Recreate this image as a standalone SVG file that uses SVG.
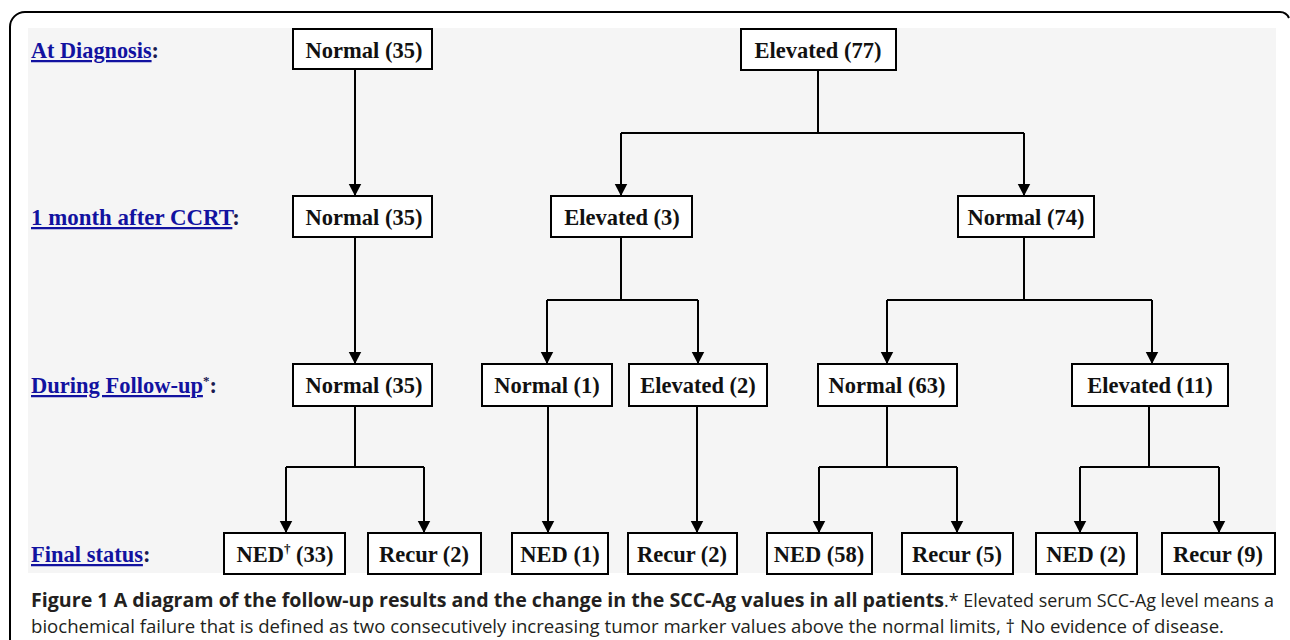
<svg xmlns="http://www.w3.org/2000/svg" width="1290" height="640" viewBox="0 0 1290 640">
<defs>
<marker id="ah" markerUnits="userSpaceOnUse" markerWidth="13" markerHeight="14" refX="12.5" refY="7" orient="auto" viewBox="0 0 13 14">
<path d="M0,0.5 L12.5,7 L0,13.5 Z" fill="#000"/>
</marker>
<style>
.box{fill:#fff;stroke:#000;stroke-width:2}
.bt{font-family:"Liberation Serif",serif;font-weight:bold;font-size:22.5px;fill:#111;text-anchor:middle}
.lb{font-family:"Liberation Serif",serif;font-weight:bold;font-size:22.5px;fill:#1212a0}
.lk{text-decoration:underline}
.cl{fill:#1a1a50}
.ln{fill:none;stroke:#000;stroke-width:2}
.ar{fill:none;stroke:#000;stroke-width:2;marker-end:url(#ah)}
.cap{font-family:"Open Sans","Noto Sans",sans-serif;font-size:19px;fill:#231f20}
</style>
</defs>
<rect x="0" y="0" width="1290" height="640" fill="#fff"/>
<path d="M10,640 V27 A15,15 0 0 1 25,12 H1280 A10,10 0 0 1 1289,18" fill="none" stroke="#000" stroke-width="2"/>
<rect x="28" y="28" width="1248" height="545" fill="#f5f5f5"/>

<g id="labels">
<text class="lb" x="31" y="58" textLength="128" lengthAdjust="spacingAndGlyphs"><tspan class="lk">At Diagnosis</tspan><tspan class="cl">:</tspan></text>
<text class="lb" x="31" y="225" textLength="209" lengthAdjust="spacingAndGlyphs"><tspan class="lk">1 month after CCRT</tspan><tspan class="cl">:</tspan></text>
<text class="lb" x="31" y="393"><tspan class="lk">During Follow-up</tspan><tspan class="cl" font-size="13" dy="-8">*</tspan><tspan class="cl" dy="8">:</tspan></text>
<text class="lb" x="31" y="562"><tspan class="lk">Final status</tspan><tspan class="cl">:</tspan></text>
</g>

<g id="connectors">
<path class="ar" d="M355,69 V196"/>
<path class="ln" d="M818,70 V133 M621,133 H1024"/>
<path class="ar" d="M621,133 V196"/>
<path class="ar" d="M1024,133 V196"/>

<path class="ar" d="M355,237 V364"/>
<path class="ln" d="M621,237 V300 M547,300 H698"/>
<path class="ar" d="M547,300 V364"/>
<path class="ar" d="M698,300 V364"/>
<path class="ln" d="M1024,237 V300 M887,300 H1152"/>
<path class="ar" d="M887,300 V364"/>
<path class="ar" d="M1152,300 V364"/>

<path class="ln" d="M355,406 V467 M286,467 H424"/>
<path class="ar" d="M286,467 V533"/>
<path class="ar" d="M424,467 V533"/>
<path class="ar" d="M548,406 V533"/>
<path class="ar" d="M697,406 V533"/>
<path class="ln" d="M887,406 V467 M819,467 H957"/>
<path class="ar" d="M819,467 V533"/>
<path class="ar" d="M957,467 V533"/>
<path class="ln" d="M1149,406 V467 M1080,467 H1219"/>
<path class="ar" d="M1080,467 V533"/>
<path class="ar" d="M1219,467 V533"/>
</g>

<g id="n1"><rect class="box" x="293" y="29" width="139" height="40"/><text class="bt" x="364" y="58">Normal (35)</text></g>
<g id="n2"><rect class="box" x="741" y="29" width="155" height="41"/><text class="bt" x="818" y="58">Elevated (77)</text></g>

<g id="n3"><rect class="box" x="293" y="196" width="139" height="41"/><text class="bt" x="364" y="225">Normal (35)</text></g>
<g id="n4"><rect class="box" x="551" y="196" width="141" height="41"/><text class="bt" x="622" y="225">Elevated (3)</text></g>
<g id="n5"><rect class="box" x="958" y="196" width="136" height="41"/><text class="bt" x="1026" y="225">Normal (74)</text></g>

<g id="n6"><rect class="box" x="293" y="364" width="139" height="42"/><text class="bt" x="364" y="393">Normal (35)</text></g>
<g id="n7"><rect class="box" x="482" y="364" width="130" height="42"/><text class="bt" x="547" y="393">Normal (1)</text></g>
<g id="n8"><rect class="box" x="629" y="364" width="138" height="42"/><text class="bt" x="698" y="393">Elevated (2)</text></g>
<g id="n9"><rect class="box" x="818" y="364" width="139" height="42"/><text class="bt" x="887" y="393">Normal (63)</text></g>
<g id="n10"><rect class="box" x="1072" y="364" width="156" height="42"/><text class="bt" x="1150" y="393">Elevated (11)</text></g>

<g id="n11"><rect class="box" x="224" y="533" width="121" height="41"/><text class="bt" x="285" y="562">NED<tspan font-size="13" dy="-9">†</tspan><tspan dy="9"> (33)</tspan></text></g>
<g id="n12"><rect class="box" x="368" y="533" width="113" height="41"/><text class="bt" x="424" y="562">Recur (2)</text></g>
<g id="n13"><rect class="box" x="512" y="533" width="96" height="41"/><text class="bt" x="560" y="562">NED (1)</text></g>
<g id="n14"><rect class="box" x="628" y="533" width="109" height="41"/><text class="bt" x="682" y="562">Recur (2)</text></g>
<g id="n15"><rect class="box" x="767" y="533" width="105" height="41"/><text class="bt" x="819" y="562">NED (58)</text></g>
<g id="n16"><rect class="box" x="902" y="533" width="111" height="41"/><text class="bt" x="957" y="562">Recur (5)</text></g>
<g id="n17"><rect class="box" x="1036" y="533" width="101" height="41"/><text class="bt" x="1086" y="562">NED (2)</text></g>
<g id="n18"><rect class="box" x="1162" y="533" width="113" height="41"/><text class="bt" x="1218" y="562">Recur (9)</text></g>

<g id="caption">
<text class="cap" x="31" y="607" font-weight="bold" textLength="913" lengthAdjust="spacingAndGlyphs">Figure 1 A diagram of the follow-up results and the change in the SCC-Ag values in all patients</text>
<text class="cap" x="944" y="607" font-size="17.5" textLength="330" lengthAdjust="spacingAndGlyphs">.* Elevated serum SCC-Ag level means a</text>
<text class="cap" x="31" y="633" textLength="1193" lengthAdjust="spacingAndGlyphs">biochemical failure that is defined as two consecutively increasing tumor marker values above the normal limits, † No evidence of disease.</text>
</g>
</svg>
